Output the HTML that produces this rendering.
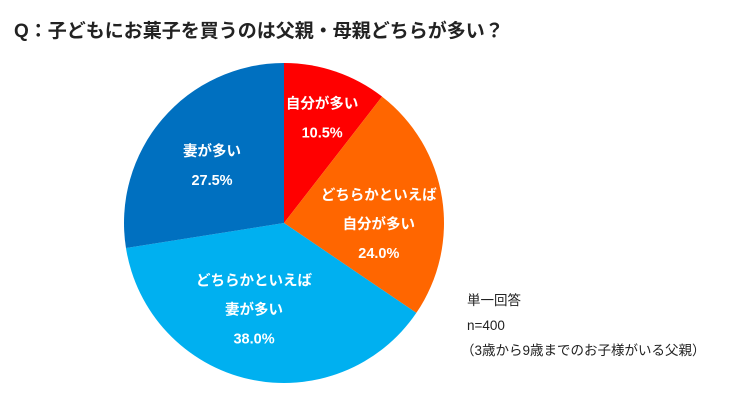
<!DOCTYPE html>
<html><head><meta charset="utf-8"><style>
body{margin:0;background:#fff;width:750px;height:408px;overflow:hidden;font-family:"Liberation Sans","Noto Sans CJK JP",sans-serif}
svg text{font-family:"Liberation Sans","Noto Sans CJK JP",sans-serif}
</style></head><body>
<svg width="750" height="408">
<text x="14" y="37" font-size="19" font-weight="bold" fill="#222">Q：子どもにお菓子を買うのは父親・母親どちらが多い？</text>
<g id="slices"></g>
<g id="labels"></g>
<text x="467" y="305" font-size="13.5" fill="#222">単一回答</text>
<text x="467" y="330" font-size="13.5" fill="#222">n=400</text>
<text x="461" y="355" font-size="13.5" fill="#222">（3歳から9歳までのお子様がいる父親）</text>
</svg>
<script>
const categories=["自分が多い","どちらかといえば自分が多い","どちらかといえば妻が多い","妻が多い"];
const values=[10.5,24.0,38.0,27.5];
const valueLabels=["10.5%","24.0%","38.0%","27.5%"];
const colors=["#ff0000","#ff6600","#00b0f0","#0070c0"];
const labelLines=[["自分が多い"],["どちらかといえば","自分が多い"],["どちらかといえば","妻が多い"],["妻が多い"]];
const labelOffsets=[[6,-11],[0,16],[-9,-7],[1,5]];
const cx=284,cy=223,r=160,NS="http://www.w3.org/2000/svg";
const total=values.reduce((a,b)=>a+b,0);
const sg=document.getElementById('slices'),lg=document.getElementById('labels');
let a0=0;
values.forEach((v,i)=>{
 const a1=a0+v/total*Math.PI*2;
 const p=(a)=>[cx+r*Math.sin(a),cy-r*Math.cos(a)];
 const [x0,y0]=p(a0),[x1,y1]=p(a1);
 const path=document.createElementNS(NS,'path');
 path.setAttribute('d',`M${cx},${cy}L${x0},${y0}A${r},${r} 0 ${a1-a0>Math.PI?1:0} 1 ${x1},${y1}Z`);
 path.setAttribute('fill',colors[i]);
 
 
 sg.appendChild(path);
 const am=(a0+a1)/2, lr=r*(i==0?0.62:0.6);
 const lx=cx+lr*Math.sin(am)+labelOffsets[i][0], ly=cy-lr*Math.cos(am)+labelOffsets[i][1];
 const lines=labelLines[i].concat([valueLabels[i]]);
 const gap=29, start=ly-(lines.length-1)*gap/2;
 lines.forEach((t,j)=>{
  const tx=document.createElementNS(NS,'text');
  tx.setAttribute('x',lx);tx.setAttribute('y',start+j*gap+5);
  tx.setAttribute('text-anchor','middle');tx.setAttribute('font-size','14.5');
  tx.setAttribute('font-weight','bold');tx.setAttribute('fill','#fff');
  
  
  tx.textContent=t;lg.appendChild(tx);
 });
 a0=a1;
});
</script>
</body></html>
